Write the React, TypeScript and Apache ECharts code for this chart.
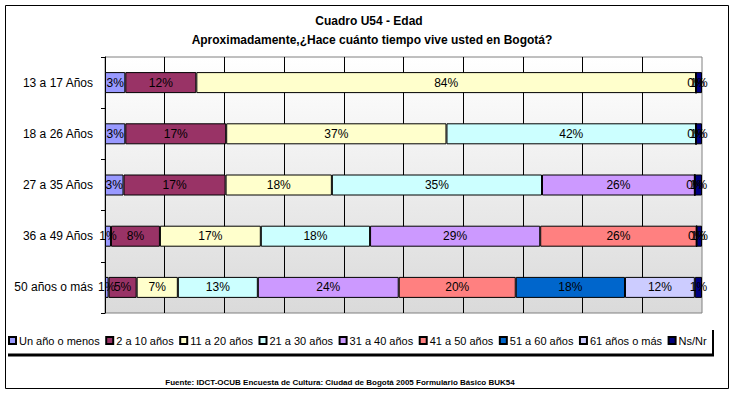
import React, { useEffect, useRef } from "react";
import * as echarts from "echarts";

const categories = ["13 a 17 Años", "18 a 26 Años", "27 a 35 Años", "36 a 49 Años", "50 años o más"];
const seriesNames = [
  "Un año o menos",
  "2 a 10 años",
  "11 a 20 años",
  "21 a 30 años",
  "31 a 40 años",
  "41 a 50 años",
  "51 a 60 años",
  "61 años o más",
  "Ns/Nr",
];
const unAnoOMenos = [3.4, 3.4, 3.1, 1.0, 0.6];
const de2a10 = [11.9, 16.9, 17.1, 8.2, 4.7];
const de11a20 = [83.7, 36.9, 17.8, 16.9, 6.9];
const de21a30 = [0, 41.8, 35.2, 18.3, 13.4];
const de31a40 = [0, 0, 25.6, 28.5, 23.6];
const de41a50 = [0, 0, 0, 26.2, 19.6];
const de51a60 = [0, 0, 0, 0, 18.3];
const de61oMas = [0, 0, 0, 0, 11.7];
const nsNr = [1.0, 1.0, 1.2, 0.9, 1.2];
const seriesValues = [unAnoOMenos, de2a10, de11a20, de21a30, de31a40, de41a50, de51a60, de61oMas, nsNr];
const colors = ["#9999FF", "#993366", "#FFFFCC", "#CCFFFF", "#CC99FF", "#FF8080", "#0066CC", "#CCCCFF", "#000080"];

const titleLine1 = "Cuadro U54 - Edad";
const titleLine2 = "Aproximadamente,¿Hace cuánto tiempo vive usted en Bogotá?";
const footer = "Fuente: IDCT-OCUB Encuesta de Cultura: Ciudad de Bogotá 2005 Formulario Básico BUK54";

const FONT = "Liberation Sans, Arial, sans-serif";

export default function App() {
  const ref = useRef<HTMLDivElement>(null);
  useEffect(() => {
    if (!ref.current) return;
    const chart = echarts.init(ref.current, null, { renderer: "svg" });
    const zeroLabelSeries = 7;
    const series = seriesValues.map((vals, i) => ({
      name: seriesNames[i],
      type: "bar",
      stack: "total",
      barWidth: 21,
      itemStyle: { color: colors[i], borderColor: "#000", borderWidth: 1 },
      label: {
        position: "inside",
        color: "#000",
        fontSize: 12,
        fontFamily: FONT,
        formatter: (p: any) => Math.round(p.value) + "%",
      },
      data: vals.map((v, r) => {
        const rowHasZero = seriesValues.some((s) => s[r] === 0);
        return {
          value: v,
          label: { show: v > 0 || (i === zeroLabelSeries && rowHasZero) },
        };
      }),
    }));
    chart.setOption({
      animation: false,
      textStyle: { fontFamily: FONT },
      color: colors,
      grid: {
        left: 105,
        top: 57,
        right: 35,
        bottom: 82,
        show: true,
        borderColor: "#808080",
        borderWidth: 1,
        backgroundColor: new echarts.graphic.LinearGradient(0, 0, 0, 1, [
          { offset: 0, color: "#ffffff" },
          { offset: 1, color: "#dadada" },
        ]),
      },
      xAxis: {
        type: "value",
        min: 0,
        max: 100,
        interval: 10,
        axisLine: { show: false },
        axisTick: { show: false },
        axisLabel: { show: false },
        splitLine: { show: true, showMinLine: false, showMaxLine: false, lineStyle: { color: "#000", width: 1 } },
      },
      yAxis: {
        type: "category",
        inverse: true,
        data: categories,
        axisLine: { show: true, lineStyle: { color: "#000", width: 1 } },
        axisTick: { show: true, length: 4, lineStyle: { color: "#000" } },
        axisLabel: { color: "#000", fontSize: 12, fontFamily: FONT, margin: 12 },
      },
      legend: {
        left: 8,
        top: 335,
        padding: 0,
        itemWidth: 7,
        itemHeight: 7,
        itemGap: 5.5,
        icon: "rect",
        textStyle: { color: "#000", fontSize: 11, fontFamily: FONT, padding: [0, 0, 0, -2] },
        data: seriesNames,
      },
      graphic: [
        {
          type: "rect",
          shape: { x: 5.5, y: 5.5, width: 723, height: 383 },
          style: { fill: "none", stroke: "#000", lineWidth: 1 },
          silent: true,
        },
        {
          type: "line",
          shape: { x1: 8, y1: 355, x2: 714, y2: 355 },
          style: { stroke: "#000", lineWidth: 3 },
          silent: true,
        },
        {
          type: "line",
          shape: { x1: 713, y1: 330, x2: 713, y2: 356 },
          style: { stroke: "#000", lineWidth: 2 },
          silent: true,
        },
        {
          type: "text",
          x: 369,
          y: 21,
          style: { text: titleLine1, fill: "#000", font: "bold 12px " + FONT, align: "center", verticalAlign: "middle" },
          silent: true,
        },
        {
          type: "text",
          x: 372,
          y: 40,
          style: { text: titleLine2, fill: "#000", font: "bold 12px " + FONT, align: "center", verticalAlign: "middle" },
          silent: true,
        },
        {
          type: "text",
          x: 340,
          y: 382,
          style: { text: footer, fill: "#000", font: "bold 8px " + FONT, align: "center", verticalAlign: "middle" },
          silent: true,
        },
      ],
      series,
    });
    return () => chart.dispose();
  }, []);
  return <div ref={ref} style={{ position: "fixed", left: 0, top: 0, width: 737, height: 395, background: "#fff" }} />;
}
